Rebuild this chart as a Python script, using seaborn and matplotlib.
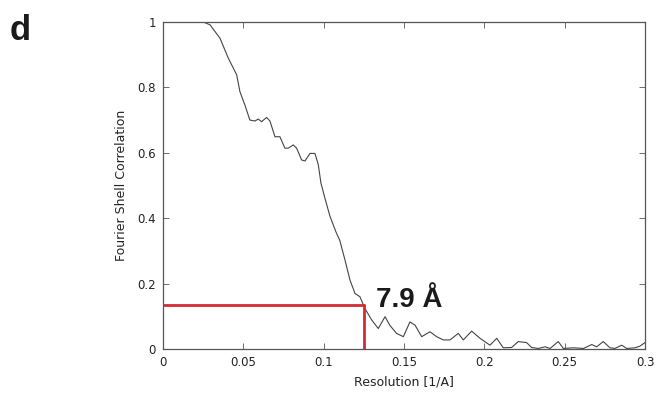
import pandas as pd
import matplotlib
matplotlib.use("Agg")
import matplotlib.pyplot as plt
import seaborn as sns

# FSC curve
resolution = [0.0, 0.010, 0.020, 0.0249, 0.0293, 0.0355, 0.0407, 0.0459, 0.0479, 0.051,
              0.0541, 0.0573, 0.0593, 0.0614, 0.0645, 0.0666, 0.0697, 0.0728, 0.0759,
              0.078, 0.0811, 0.0832, 0.0863, 0.0884, 0.0915, 0.0946, 0.0967, 0.0983,
              0.1008, 0.104, 0.108, 0.110, 0.1133, 0.1164, 0.1195, 0.1226, 0.1257,
              0.1299, 0.134, 0.1382, 0.1413, 0.1454, 0.1496, 0.1537, 0.1569, 0.161,
              0.1662, 0.1703, 0.1745, 0.1786, 0.1838, 0.1869, 0.1921, 0.1973, 0.2035,
              0.2077, 0.2118, 0.217, 0.2211, 0.2263, 0.2294, 0.2336, 0.2378, 0.2409,
              0.246, 0.2492, 0.2555, 0.2617, 0.2668, 0.2699, 0.274, 0.2782, 0.2813,
              0.2855, 0.2886, 0.2938, 0.2968, 0.3]
fsc = [1.0, 1.0, 1.0, 1.0, 0.991, 0.950, 0.889, 0.838, 0.787, 0.746,
       0.700, 0.697, 0.703, 0.695, 0.708, 0.697, 0.649, 0.649, 0.614,
       0.614, 0.624, 0.614, 0.578, 0.575, 0.598, 0.598, 0.563, 0.508,
       0.461, 0.405, 0.354, 0.333, 0.272, 0.211, 0.170, 0.160, 0.124,
       0.089, 0.063, 0.099, 0.072, 0.048, 0.038, 0.083, 0.073, 0.038,
       0.053, 0.038, 0.028, 0.028, 0.048, 0.028, 0.055, 0.033, 0.012,
       0.033, 0.004, 0.005, 0.023, 0.020, 0.005, 0.002, 0.007, 0.002,
       0.023, 0.002, 0.004, 0.002, 0.014, 0.007, 0.023, 0.004, 0.002,
       0.012, 0.002, 0.004, 0.009, 0.020]

cutoff_res = 0.125
cutoff_fsc = 0.135
cutoff_label = "7.9 Å"

df = pd.DataFrame({"Resolution": resolution, "FSC": fsc})

sns.set_style("ticks")
plt.rcParams['font.family'] = ['DejaVu Sans']

fig = plt.figure(figsize=(6.65, 4.05), dpi=100)
ax = fig.add_axes([0.245, 0.138, 0.725, 0.808])

sns.lineplot(data=df, x="Resolution", y="FSC", color="#444444", linewidth=0.8, ax=ax)

# cutoff marker
ax.plot([0, cutoff_res], [cutoff_fsc, cutoff_fsc], color="#d42a36", linewidth=2)
ax.plot([cutoff_res, cutoff_res], [0, cutoff_fsc], color="#d42a36", linewidth=2)
ax.text(cutoff_res + 0.0075, cutoff_fsc - 0.005, cutoff_label, fontsize=20,
        fontweight="bold", family=["Liberation Sans", "DejaVu Sans"],
        color="#1a1a1a", ha="left", va="baseline")

ax.set_xlim(0, 0.3)
ax.set_ylim(0, 1)
ax.set_xticks([0, 0.05, 0.1, 0.15, 0.2, 0.25, 0.3])
ax.set_xticklabels(["0", "0.05", "0.1", "0.15", "0.2", "0.25", "0.3"])
ax.set_yticks([0, 0.2, 0.4, 0.6, 0.8, 1])
ax.set_yticklabels(["0", "0.2", "0.4", "0.6", "0.8", "1"])
ax.tick_params(direction="in", top=True, right=True, length=4, width=0.6,
               colors="#555555", labelcolor="#222222", labelsize=8.5, pad=5)
for s in ax.spines.values():
    s.set_color("#555555")
    s.set_linewidth(0.9)

ax.set_xlabel("Resolution [1/A]", fontsize=9, color="#222222", labelpad=5)
ax.set_ylabel("Fourier Shell Correlation", fontsize=9, color="#222222", labelpad=7)

fig.text(0.015, 0.965, "d", fontsize=25, fontweight="bold",
         family=["Liberation Sans", "DejaVu Sans"], color="#1a1a1a",
         ha="left", va="top")

fig.savefig("out.png", dpi=100)
